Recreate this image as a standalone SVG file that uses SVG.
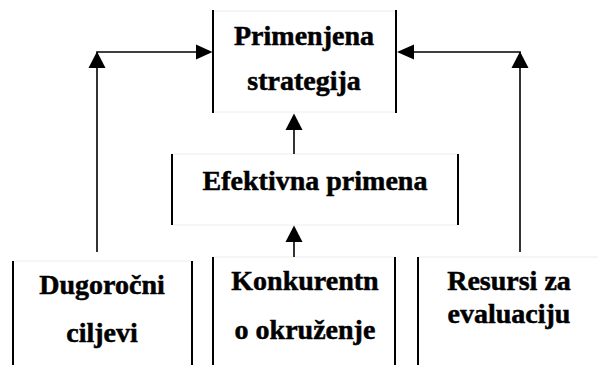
<svg xmlns="http://www.w3.org/2000/svg" width="598" height="365" viewBox="0 0 598 365">
<style>
.side{stroke:#000;stroke-width:2;fill:none}
.edge{stroke:#ececec;stroke-width:1;fill:none}
.t{font-family:'Liberation Serif','Times New Roman',serif;font-weight:700;font-size:28px;fill:#000;stroke:#000;stroke-width:0.5;text-anchor:middle}
.c{stroke:#000;stroke-width:1.6;fill:none}
.ah{fill:#000}
</style>
<rect width="598" height="365" fill="#fff"/>
<g id="primenjena">
<line class="edge" x1="213" y1="11" x2="396" y2="11"/>
<line class="edge" x1="213" y1="112" x2="396" y2="112"/>
<line class="side" x1="213" y1="10" x2="213" y2="113"/>
<line class="side" x1="396" y1="10" x2="396" y2="113"/>
<text class="t" x="304" y="45">Primenjena</text>
<text class="t" x="304" y="90">strategija</text>
</g>
<g id="efektivna">
<line class="edge" x1="172" y1="154" x2="458" y2="154"/>
<line class="edge" x1="172" y1="225" x2="458" y2="225"/>
<line class="side" x1="172" y1="154" x2="172" y2="225"/>
<line class="side" x1="458" y1="154" x2="458" y2="225"/>
<text class="t" x="315" y="190">Efektivna primena</text>
</g>
<g id="dugorocni">
<line class="edge" x1="13" y1="261" x2="192" y2="261"/>
<line class="side" x1="13" y1="261" x2="13" y2="365"/>
<line class="side" x1="192" y1="261" x2="192" y2="365"/>
<text class="t" x="102" y="294">Dugoročni</text>
<text class="t" x="102" y="342">ciljevi</text>
</g>
<g id="konkurentno">
<line class="edge" x1="213" y1="257" x2="395" y2="257"/>
<line class="side" x1="213" y1="257" x2="213" y2="365"/>
<line class="side" x1="395" y1="257" x2="395" y2="365"/>
<text class="t" x="305" y="290">Konkurentn</text>
<text class="t" x="305" y="339">o okruženje</text>
</g>
<g id="resursi">
<line class="edge" x1="418" y1="257" x2="598" y2="257"/>
<line class="side" x1="418" y1="257" x2="418" y2="365"/>
<text class="t" x="509" y="290">Resursi za</text>
<text class="t" x="509" y="323">evaluaciju</text>
</g>
<g id="connectors">
<polyline class="c" points="97,252 97,52 198,52"/>
<polygon class="ah" points="97,51.5 88.5,68 105.5,68"/>
<polygon class="ah" points="212.5,52 196,44.5 196,59.5"/>
<polyline class="c" points="520,252 520,52 412,52"/>
<polygon class="ah" points="520,51.5 511.5,68 528.5,68"/>
<polygon class="ah" points="397,52 414,44.5 414,59.5"/>
<line class="c" x1="294" y1="154" x2="294" y2="125"/>
<polygon class="ah" points="294,113.5 285.5,130 302.5,130"/>
<line class="c" x1="294" y1="257" x2="294" y2="235"/>
<polygon class="ah" points="294,225.5 285.5,242 302.5,242"/>
</g>
</svg>
